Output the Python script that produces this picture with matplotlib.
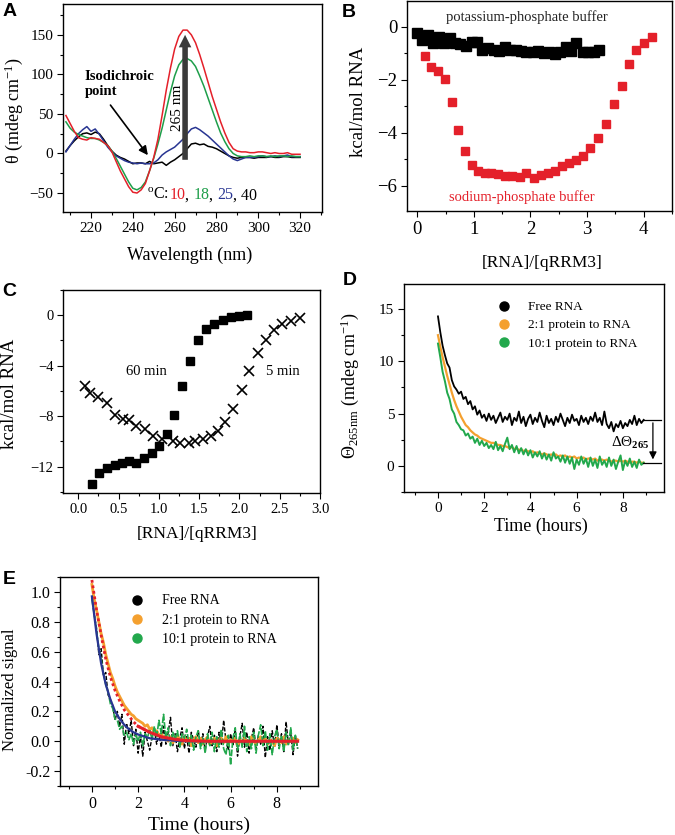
import numpy as np
import matplotlib
matplotlib.use('Agg')
import matplotlib.pyplot as plt
from matplotlib.ticker import MultipleLocator
from matplotlib.lines import Line2D
from matplotlib.offsetbox import TextArea, HPacker, AnnotationBbox

plt.rcParams['font.family'] = ['Liberation Serif', 'DejaVu Serif']
plt.rcParams['mathtext.fontset'] = 'custom'
plt.rcParams['mathtext.rm'] = 'Liberation Serif'
plt.rcParams['mathtext.it'] = 'Liberation Serif:italic'
plt.rcParams['mathtext.bf'] = 'Liberation Serif:bold'

RED = '#e4202a'
GREEN = '#1e9e4a'
BLUE = '#283592'
ORANGE = '#f4a02f'
DGREEN = '#22a84c'

# ---------------- Panel A data (CD spectra) ----------------
wavelength = list(range(208, 321, 2))
cd_10C = [48, 38, 28, 20, 18, 17, 20, 19, 18, 14,
          10, 2, -10, -22, -32, -42, -49, -50, -46, -38,
          -22, -5, 18, 48, 80, 108, 132, 148, 156, 156,
          150, 140, 125, 108, 90, 72, 56, 40, 26, 14,
          6, 3, 2, 2, 1, 1, 2, 2, 1, 0,
          1, 0, 0, 1, -1, -1, -1]
cd_18C = [40, 32, 27, 24, 22, 20, 19, 19, 17, 14,
          10, 3, -6, -16, -26, -36, -44, -46, -43, -36,
          -22, -6, 12, 32, 55, 78, 98, 112, 119, 120,
          117, 110, 98, 85, 70, 55, 40, 26, 15, 6,
          0, -3, -4, -4, -3, -4, -3, -3, -4, -3,
          -4, -3, -3, -4, -3, -4, -4]
cd_25C = [2, 10, 18, 25, 30, 34, 28, 31, 24, 16,
          8, 2, -3, -6, -9, -11, -12, -13, -12, -13,
          -13, -12, -8, -2, 2, 5, 8, 13, 18, 25,
          31, 33, 30, 26, 22, 17, 12, 7, 2, -3,
          -7, -9, -7, -5, -5, -5, -4, -3, -4, -4,
          -3, -4, -3, -2, -4, -4, -4]
cd_40C = [3, 10, 16, 21, 25, 26, 24, 27, 25, 18,
          10, 3, -2, -5, -7, -10, -13, -12, -12, -13,
          -10, -13, -12, -11, -15, -11, -8, -4, 0, 6,
          12, 13, 11, 12, 9, 8, 6, 3, 0, -3,
          -5, -6, -5, -5, -5, -6, -5, -5, -5, -4,
          -5, -5, -4, -4, -5, -5, -5]

# ---------------- Panel B data (ITC, buffers) ----------------
b_k_x = [0.00, 0.09, 0.19, 0.28, 0.38, 0.47, 0.58, 0.66, 0.76, 0.86,
         0.96, 1.05, 1.15, 1.25, 1.35, 1.45, 1.55, 1.64, 1.74, 1.84,
         1.93, 2.04, 2.14, 2.24, 2.33, 2.43, 2.52, 2.62, 2.72, 2.81,
         2.92, 3.01, 3.12, 3.21]
b_k_y = [-0.23, -0.50, -0.31, -0.63, -0.38, -0.63, -0.44, -0.63, -0.67, -0.73,
         -0.57, -0.57, -0.88, -0.82, -0.86, -0.91, -0.75, -0.86, -0.88, -0.91,
         -0.94, -0.94, -0.92, -0.98, -0.97, -1.01, -0.97, -0.75, -0.91, -0.60,
         -0.94, -0.94, -0.94, -0.88]
b_na_x = [0.14, 0.25, 0.37, 0.49, 0.61, 0.72, 0.84, 0.96, 1.08, 1.19,
          1.31, 1.43, 1.55, 1.68, 1.81, 1.93, 2.06, 2.18, 2.31, 2.43,
          2.56, 2.68, 2.81, 2.93, 3.06, 3.19, 3.33, 3.47, 3.61, 3.74,
          3.87, 4.00, 4.14]
b_na_y = [-1.11, -1.51, -1.66, -1.99, -2.83, -3.90, -4.68, -5.22, -5.43, -5.51,
          -5.53, -5.56, -5.64, -5.62, -5.66, -5.53, -5.70, -5.60, -5.50, -5.45,
          -5.25, -5.13, -5.03, -4.87, -4.59, -4.21, -3.65, -2.92, -2.23, -1.42,
          -0.88, -0.63, -0.38]

# ---------------- Panel C data (ITC, incubation time) ----------------
c60_x = [0.17, 0.26, 0.35, 0.45, 0.54, 0.63, 0.72, 0.82, 0.91, 1.00,
         1.10, 1.19, 1.29, 1.39, 1.49, 1.59, 1.69, 1.79, 1.89, 1.99, 2.10]
c60_y = [-13.4, -12.5, -12.1, -11.9, -11.7, -11.6, -11.7, -11.3, -10.9, -10.4,
         -9.4, -7.9, -5.6, -3.6, -2.0, -1.1, -0.66, -0.40, -0.18, -0.08, 0.0]
c5_x = [0.08, 0.15, 0.25, 0.35, 0.46, 0.56, 0.63, 0.72, 0.83, 0.93,
        1.04, 1.18, 1.26, 1.37, 1.45, 1.55, 1.65, 1.74, 1.82, 1.92,
        2.03, 2.12, 2.23, 2.33, 2.43, 2.53, 2.64, 2.75]
c5_y = [-5.6, -6.2, -6.5, -7.0, -7.9, -8.2, -8.3, -8.8, -9.0, -9.6,
        -9.8, -10.0, -10.1, -10.1, -10.0, -9.8, -9.6, -9.2, -8.5, -7.4,
        -5.9, -4.4, -3.0, -2.0, -1.2, -0.7, -0.45, -0.26]

# ---------------- Panel D data (CD kinetics) ----------------
time_h = [round(0.1 * i, 1) for i in range(90)]
d_free = [14.3, 12.8, 11.5, 10.6, 9.8, 9.4, 8.2, 7.6, 7.3, 6.9,
          7.1, 6.4, 6.6, 5.9, 6.2, 5.4, 5.7, 4.9, 5.3, 4.6,
          4.9, 4.3, 5.0, 4.4, 4.8, 4.1, 4.6, 5.1, 4.2, 4.7,
          4.4, 5.0, 3.9, 4.6, 4.3, 5.2, 4.1, 4.7, 3.8, 4.5,
          4.9, 4.0, 4.6, 4.2, 5.1, 4.3, 3.7, 4.8, 4.1, 4.5,
          3.9, 4.7, 4.2, 5.0, 4.4, 3.8, 4.6, 4.1, 4.9, 4.3,
          4.5, 3.9, 4.8, 4.2, 4.6, 4.0, 4.7, 4.3, 5.1, 4.2,
          4.6, 3.9, 5.2, 4.0, 3.6, 4.2, 3.3, 4.0, 3.7, 4.3,
          3.6, 4.1, 3.8, 4.4, 4.0, 4.8, 3.9, 4.5, 4.1, 4.4]
d_2to1 = [12.5, 11.4, 10.4, 9.5, 8.6, 7.8, 7.0, 6.3, 5.7, 5.2,
          4.7, 4.3, 3.9, 3.7, 3.4, 3.2, 3.0, 2.9, 2.7, 2.6,
          2.5, 2.4, 2.3, 2.2, 2.2, 2.1, 2.0, 2.0, 1.9, 1.9,
          1.8, 1.7, 1.8, 1.6, 1.7, 1.5, 1.6, 1.4, 1.5, 1.4,
          1.3, 1.4, 1.2, 1.3, 1.2, 1.1, 1.2, 1.1, 1.0, 1.1,
          1.0, 1.1, 0.9, 1.0, 0.9, 1.0, 0.8, 0.9, 0.8, 0.9,
          0.7, 0.8, 0.7, 0.8, 0.6, 0.7, 0.7, 0.6, 0.7, 0.5,
          0.6, 0.6, 0.5, 0.6, 0.5, 0.4, 0.5, 0.5, 0.4, 0.5,
          0.4, 0.5, 0.4, 0.3, 0.4, 0.4, 0.3, 0.4, 0.3, 0.3]
d_10to1 = [11.7, 10.4, 9.0, 8.1, 7.0, 6.4, 5.4, 5.0, 4.2, 3.9,
           3.5, 3.4, 2.9, 3.1, 2.6, 2.8, 2.2, 2.6, 2.0, 2.4,
           1.9, 2.2, 1.7, 2.0, 1.6, 2.3, 1.5, 1.9, 1.4, 2.1,
           2.7, 1.6, 2.0, 1.3, 1.9, 1.2, 1.7, 1.1, 1.6, 1.0,
           1.5, 0.8, 1.3, 0.9, 1.4, 0.7, 1.2, 0.6, 1.1, 0.5,
           1.3, 0.7, 0.9, 0.4, 1.0, 0.3, 0.9, 0.2, 0.8, -0.3,
           0.6, 0.1, 0.9, 0.2, 0.7, -0.1, 0.8, 0.0, 0.6, -0.2,
           0.9, 0.1, 0.5, -0.1, 0.8, 0.0, 0.6, -0.3, 0.4, 1.0,
           -0.4, 0.5, 0.0, 0.7, -0.1, 0.4, -0.2, 0.6, 0.1, 0.3]

# ---------------- Panel E data (normalized kinetics + fits) ----------------
e_free = [0.97, 0.85, 0.76, 0.58, 0.62, 0.44, 0.46, 0.31, 0.28, 0.24,
          0.14, 0.20, 0.10, 0.18, -0.02, 0.12, 0.05, 0.14, -0.03, 0.08,
          -0.08, 0.04, -0.10, 0.06, 0.00, -0.06, 0.03, 0.08, -0.02, 0.05,
          -0.04, 0.10, -0.02, 0.06, 0.16, -0.03, 0.05, -0.07, 0.02, 0.09,
          -0.05, 0.03, -0.08, 0.06, 0.01, -0.04, 0.07, -0.02, 0.05, -0.06,
          0.03, 0.10, -0.03, 0.04, -0.07, 0.06, -0.02, 0.14, 0.00, -0.06,
          0.05, -0.03, 0.08, -0.10, 0.03, 0.12, -0.04, 0.06, -0.08, 0.02,
          0.09, -0.05, 0.04, -0.02, 0.10, -0.11, 0.03, -0.06, 0.07, -0.04,
          0.11, -0.03, 0.05, -0.07, 0.13, -0.02, 0.06, -0.09, 0.04, -0.05]
e_2to1 = [1.05, 0.95, 0.88, 0.80, 0.72, 0.66, 0.58, 0.52, 0.46, 0.42,
          0.37, 0.33, 0.30, 0.27, 0.24, 0.22, 0.20, 0.18, 0.17, 0.15,
          0.14, 0.13, 0.12, 0.10, 0.11, 0.08, 0.09, 0.06, 0.07, 0.04,
          0.05, 0.02, 0.04, 0.00, 0.03, -0.01, 0.02, 0.04, 0.01, -0.02,
          0.03, 0.00, 0.02, -0.03, 0.01, 0.03, -0.01, 0.02, -0.02, 0.01,
          0.03, -0.02, 0.00, 0.02, -0.03, 0.01, 0.02, -0.01, 0.03, -0.02,
          0.01, 0.00, 0.02, -0.03, 0.01, -0.01, 0.02, 0.00, -0.02, 0.03,
          0.00, -0.02, 0.01, 0.03, -0.01, 0.02, -0.02, 0.01, 0.00, -0.03,
          0.02, 0.01, -0.01, 0.03, -0.02, 0.01, 0.00, 0.02, -0.01, 0.01]
e_10to1 = [0.95, 0.85, 0.74, 0.62, 0.55, 0.45, 0.38, 0.33, 0.25, 0.22,
           0.15, 0.14, 0.08, 0.10, 0.04, 0.06, 0.01, 0.05, -0.02, 0.04,
           0.00, 0.06, -0.03, 0.05, 0.02, 0.08, 0.01, 0.10, 0.03, 0.14,
           0.05, 0.18, 0.02, 0.09, -0.03, 0.06, 0.01, 0.07, -0.04, 0.05,
           0.02, 0.08, -0.02, 0.04, -0.06, 0.03, 0.07, -0.05, 0.02, -0.08,
           0.05, -0.03, 0.06, -0.07, 0.03, -0.04, 0.08, -0.05, -0.09, 0.04,
           -0.16, 0.02, 0.09, -0.06, 0.05, -0.04, 0.10, -0.07, 0.03, -0.05,
           0.06, -0.08, 0.04, 0.11, -0.03, 0.07, -0.06, 0.05, -0.09, 0.03,
           0.08, -0.05, 0.04, -0.07, 0.06, -0.03, 0.09, -0.06, 0.04, -0.05]
fit_t = [0.0, 0.2, 0.4, 0.6, 0.8, 1.0, 1.2, 1.4, 1.6, 1.8, 2.0, 2.5, 3.0, 3.5, 4.0, 5.0, 6.0, 7.0, 8.0, 8.9]
fit_blue = [0.97, 0.72, 0.52, 0.38, 0.28, 0.20, 0.15, 0.11, 0.08, 0.06, 0.045, 0.02, 0.01, 0.004, 0.0, 0.0, 0.0, 0.0, 0.0, 0.0]
fit_red = [1.08, 0.88, 0.71, 0.55, 0.43, 0.34, 0.27, 0.21, 0.17, 0.13, 0.10, 0.06, 0.03, 0.015, 0.005, 0.0, 0.0, 0.0, 0.0, 0.0]

W, H = 675.0, 835.0


def make_axes(l, r, t, b):
    return fig.add_axes([l / W, 1 - b / H, (r - l) / W, (b - t) / H])


def style(ax, fs):
    for s in ax.spines.values():
        s.set_linewidth(1.0)
    ax.tick_params(which='major', direction='out', length=4, width=0.8, labelsize=fs,
                   top=False, right=False, pad=3)
    ax.tick_params(which='minor', direction='out', length=2.2, width=0.8, top=False, right=False)


fig = plt.figure(figsize=(6.75, 8.35), dpi=100)

# ---------------- A ----------------
axA = make_axes(63, 322, 4, 212)
axA.plot(wavelength, cd_40C, color='black', lw=1.1)
axA.plot(wavelength, cd_25C, color=BLUE, lw=1.1)
axA.plot(wavelength, cd_18C, color=GREEN, lw=1.1)
axA.plot(wavelength, cd_10C, color=RED, lw=1.1)
axA.set_xlim(206.6, 330.5)
axA.set_ylim(-74, 189)
axA.xaxis.set_major_locator(MultipleLocator(20))
axA.xaxis.set_minor_locator(MultipleLocator(10))
axA.yaxis.set_major_locator(MultipleLocator(50))
axA.yaxis.set_minor_locator(MultipleLocator(25))
style(axA, 11)
axA.set_xlabel('Wavelength (nm)', fontsize=13)
axA.set_ylabel(r'θ (mdeg cm$^{-1}$)', fontsize=13)
axA.xaxis.set_label_coords(0.49, -0.165)
axA.yaxis.set_label_coords(-0.145, 0.49)
axA.annotate('', xy=(265, 150), xytext=(265, -8),
             arrowprops=dict(width=4, headwidth=9, headlength=9, color='#3a3a3a', lw=0))
axA.text(261.5, 58, '265 nm', rotation=90, ha='center', va='center', fontsize=11)
axA.text(217, 88, 'Isodichroic\npoint', ha='left', va='center', fontsize=10.5,
         fontweight='bold', linespacing=1.25)
axA.annotate('', xy=(248, -5), xytext=(228.5, 64),
             arrowprops=dict(arrowstyle='-|>', lw=1.2, color='black', mutation_scale=13))
parts = [(r'$^{\mathrm{o}}$C:', 'black'), ('10', RED), (', ', 'black'), ('18', GREEN),
         (', ', 'black'), ('25', BLUE), (', 40', 'black')]
boxes = [TextArea(s, textprops=dict(color=c, fontsize=11.5)) for s, c in parts]
pack = HPacker(children=boxes, align='baseline', pad=0, sep=0)
axA.add_artist(AnnotationBbox(pack, (247, -53), xycoords='data', box_alignment=(0, 0.5),
                              frameon=False, pad=0))

# ---------------- B ----------------
axB = make_axes(407, 672, 1, 211)
axB.plot(b_k_x, b_k_y, ls='none', marker='s', ms=6.5, color='black')
axB.plot(b_na_x, b_na_y, ls='none', marker='s', ms=5.8, color=RED)
axB.set_xlim(-0.18, 4.5)
axB.set_ylim(-6.95, 0.97)
axB.xaxis.set_major_locator(MultipleLocator(1))
axB.xaxis.set_minor_locator(MultipleLocator(0.5))
axB.yaxis.set_major_locator(MultipleLocator(2))
axB.yaxis.set_minor_locator(MultipleLocator(1))
style(axB, 13.5)
axB.set_xlabel('[RNA]/[qRRM3]', fontsize=12.5)
axB.set_ylabel('kcal/mol RNA', fontsize=13.5)
axB.xaxis.set_label_coords(0.51, -0.21)
axB.yaxis.set_label_coords(-0.15, 0.52)
axB.text(1.94, 0.36, 'potassium-phosphate buffer', ha='center', va='center', fontsize=10.5,
         color='#222222')
axB.text(1.85, -6.42, 'sodium-phosphate buffer', ha='center', va='center', fontsize=10.5,
         color=RED)

# ---------------- C ----------------
axC = make_axes(63, 320, 290, 493)
axC.plot(c60_x, c60_y, ls='none', marker='s', ms=5.8, color='black')
axC.plot(c5_x, c5_y, ls='none', marker='x', ms=6.5, mew=1.2, color='black')
axC.set_xlim(-0.19, 3.0)
axC.set_ylim(-14.1, 2.0)
axC.xaxis.set_major_locator(MultipleLocator(0.5))
axC.xaxis.set_minor_locator(MultipleLocator(0.25))
axC.yaxis.set_major_locator(MultipleLocator(4))
axC.yaxis.set_minor_locator(MultipleLocator(2))
axC.xaxis.set_major_formatter(matplotlib.ticker.FormatStrFormatter('%.1f'))
style(axC, 10.5)
axC.set_xlabel('[RNA]/[qRRM3]', fontsize=12.5)
axC.set_ylabel('kcal/mol RNA', fontsize=13.5)
axC.xaxis.set_label_coords(0.52, -0.165)
axC.yaxis.set_label_coords(-0.175, 0.49)
axC.text(0.84, -4.5, '60 min', ha='center', va='center', fontsize=10.5)
axC.text(2.54, -4.5, '5 min', ha='center', va='center', fontsize=10.5)

# ---------------- D ----------------
axD = make_axes(404, 664, 284, 492)
axD.plot(time_h, d_free, color='black', lw=1.3)
axD.plot(time_h, d_2to1, color=ORANGE, lw=1.6)
axD.plot(time_h, d_10to1, color=DGREEN, lw=1.4)
axD.set_xlim(-1.47, 9.78)
axD.set_ylim(-2.5, 17.4)
axD.xaxis.set_major_locator(MultipleLocator(2))
axD.xaxis.set_minor_locator(MultipleLocator(1))
axD.yaxis.set_major_locator(MultipleLocator(5))
axD.yaxis.set_minor_locator(MultipleLocator(2.5))
style(axD, 11)
axD.set_xlabel('Time (hours)', fontsize=13)
axD.set_ylabel(r'$\Theta_{265\mathrm{nm}}$ (mdeg cm$^{-1}$)', fontsize=13)
axD.xaxis.set_label_coords(0.527, -0.125)
axD.yaxis.set_label_coords(-0.165, 0.51)
handles = [Line2D([], [], ls='none', marker='o', ms=6.5, color=c) for c in ('black', ORANGE, DGREEN)]
axD.legend(handles, ['Free RNA', '2:1 protein to RNA', '10:1 protein to RNA'],
           loc='upper left', bbox_to_anchor=(0.335, 0.95), frameon=False, fontsize=9.5,
           handlelength=1.0, handletextpad=1.3, labelspacing=0.45, borderpad=0)
axD.plot([8.85, 9.65], [4.38, 4.38], color='black', lw=0.9)
axD.plot([8.85, 9.65], [0.32, 0.32], color='black', lw=0.9)
axD.annotate('', xy=(9.3, 0.35), xytext=(9.3, 4.38),
             arrowprops=dict(arrowstyle='-|>', lw=0.9, color='black', mutation_scale=11))
axD.text(8.3, 2.2, r'ΔΘ$_{\mathbf{265}}$', ha='center', va='center', fontsize=11)

# ---------------- E ----------------
axE = make_axes(60, 318, 577, 786)
axE.plot(time_h, e_free, color='black', lw=1.0, ls=(0, (3, 1.2)))
axE.plot(time_h, e_2to1, color=ORANGE, lw=2.0)
axE.plot(time_h, e_10to1, color=DGREEN, lw=1.2, ls=(0, (4, 1)))
axE.plot(fit_t, fit_blue, color=BLUE, lw=1.6)
axE.plot(fit_t[:12], fit_red[:12], color=RED, lw=2.0, ls=(0, (1, 1)))
axE.plot(fit_t[10:], fit_red[10:], color=RED, lw=2.2)
axE.set_xlim(-1.38, 9.78)
axE.set_ylim(-0.30, 1.10)
axE.xaxis.set_major_locator(MultipleLocator(2))
axE.xaxis.set_minor_locator(MultipleLocator(1))
axE.yaxis.set_major_locator(MultipleLocator(0.2))
axE.yaxis.set_minor_locator(MultipleLocator(0.1))
axE.yaxis.set_major_formatter(matplotlib.ticker.FormatStrFormatter('%.1f'))
style(axE, 11.5)
axE.set_xlabel('Time (hours)', fontsize=14)
axE.set_ylabel('Normalized signal', fontsize=12)
axE.xaxis.set_label_coords(0.54, -0.148)
axE.yaxis.set_label_coords(-0.163, 0.46)
handles = [Line2D([], [], ls='none', marker='o', ms=6.5, color=c) for c in ('black', ORANGE, DGREEN)]
axE.legend(handles, ['Free RNA', '2:1 protein to RNA', '10:1 protein to RNA'],
           loc='upper left', bbox_to_anchor=(0.245, 0.95), frameon=False, fontsize=10,
           handlelength=1.0, handletextpad=1.3, labelspacing=0.45, borderpad=0)

# ---------------- panel letters ----------------
for lab, x, y in [('A', 3, 3), ('B', 342, 4), ('C', 2, 283), ('D', 343, 272), ('E', 3, 571)]:
    fig.text(x / W, 1 - y / H, lab, ha='left', va='top', fontsize=14, fontweight='bold',
             family='Liberation Sans')

fig.savefig('out.png', dpi=100)
